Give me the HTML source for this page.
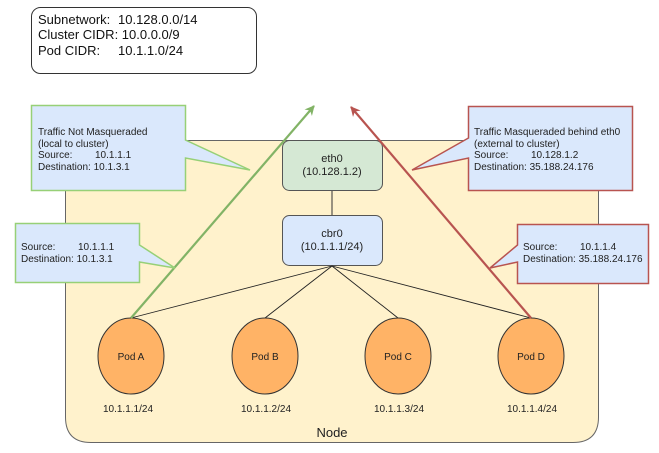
<!DOCTYPE html>
<html><head><meta charset="utf-8"><style>
html,body{margin:0;padding:0;background:#fff;}
svg{display:block;font-family:"Liberation Sans",Arial,sans-serif;}
</style></head><body>
<svg width="659" height="453" viewBox="0 0 659 453" xmlns="http://www.w3.org/2000/svg">
<defs>
<marker id="ag" viewBox="0 0 10 10" refX="9" refY="5" markerWidth="4.5" markerHeight="4.5" orient="auto"><path d="M0,0 L10,5 L0,10 L3,5 z" fill="#82b366"/></marker>
<marker id="ar" viewBox="0 0 10 10" refX="9" refY="5" markerWidth="4.5" markerHeight="4.5" orient="auto"><path d="M0,0 L10,5 L0,10 L3,5 z" fill="#b85450"/></marker>
</defs>
<!-- info box -->
<rect x="31.5" y="7.5" width="225" height="66" rx="9" fill="#fff" stroke="#333"/>
<g font-size="13" fill="#111">
<text x="38" y="24">Subnetwork:</text><text x="118" y="24">10.128.0.0/14</text>
<text x="38" y="39">Cluster CIDR: 10.0.0.0/9</text>
<text x="38" y="55">Pod CIDR:</text><text x="118" y="55">10.1.1.0/24</text>
</g>
<!-- node -->
<path d="M65.5,140.5 H598.5 V417 Q598.5,442.5 573,442.5 H91 Q65.5,442.5 65.5,417 Z" fill="#fff2cc" stroke="#666"/>
<text x="332" y="437" font-size="13" text-anchor="middle" fill="#222">Node</text>
<!-- eth0 / cbr0 -->
<line x1="332" y1="190" x2="332" y2="215" stroke="#333"/>
<rect x="282.5" y="140.5" width="100" height="50" rx="7" fill="#d5e8d4" stroke="#555"/>
<text x="332" y="162" font-size="11" text-anchor="middle" fill="#222">eth0</text>
<text x="332" y="175" font-size="11" text-anchor="middle" fill="#222">(10.128.1.2)</text>
<rect x="282.5" y="215.5" width="100" height="50" rx="7" fill="#dae8fc" stroke="#555"/>
<text x="332" y="237" font-size="11" text-anchor="middle" fill="#222">cbr0</text>
<text x="332" y="250" font-size="11" text-anchor="middle" fill="#222">(10.1.1.1/24)</text>
<g stroke="#222" stroke-width="0.9">
<line x1="332" y1="266" x2="131" y2="318"/>
<line x1="332" y1="266" x2="265" y2="318"/>
<line x1="332" y1="266" x2="398" y2="318"/>
<line x1="332" y1="266" x2="531" y2="318"/>
</g>
<!-- pods -->
<g fill="#ffb366" stroke="#333">
<ellipse cx="131" cy="356" rx="33" ry="38"/>
<ellipse cx="265" cy="356" rx="33" ry="38"/>
<ellipse cx="398" cy="356" rx="33" ry="38"/>
<ellipse cx="531" cy="356" rx="33" ry="38"/>
</g>
<g font-size="10" text-anchor="middle" fill="#222">
<text x="131" y="360">Pod A</text><text x="265" y="360">Pod B</text><text x="398" y="360">Pod C</text><text x="531" y="360">Pod D</text>
<text x="128" y="412">10.1.1.1/24</text><text x="266" y="412">10.1.1.2/24</text><text x="399" y="412">10.1.1.3/24</text><text x="532" y="412">10.1.1.4/24</text>
</g>
<!-- arrows -->
<line x1="131" y1="318" x2="314" y2="106" stroke="#82b366" stroke-width="2.2" marker-end="url(#ag)"/>
<line x1="531" y1="318" x2="351" y2="107" stroke="#b85450" stroke-width="2.2" marker-end="url(#ar)"/>
<!-- callouts -->
<path d="M31.5,105.5 H185.5 V140 L250,170 L185.5,158 V190.5 H31.5 Z" fill="#dae8fc" stroke="#97d077" stroke-width="1.5"/>
<g font-size="10" fill="#222">
<text x="38" y="135">Traffic Not Masqueraded</text>
<text x="38" y="147">(local to cluster)</text>
<text x="38" y="158">Source:</text><text x="95" y="158">10.1.1.1</text>
<text x="38" y="170">Destination:  10.1.3.1</text>
</g>
<path d="M15.5,223.5 H139.5 V245 L175,268 L139.5,262 V282.5 H15.5 Z" fill="#dae8fc" stroke="#97d077" stroke-width="1.5"/>
<g font-size="10" fill="#222">
<text x="21" y="250">Source:</text><text x="78" y="250">10.1.1.1</text>
<text x="21" y="262">Destination:  10.1.3.1</text>
</g>
<path d="M468.5,106.5 H632.5 V190.5 H468.5 V158 L412,170 L468.5,138 Z" fill="#dae8fc" stroke="#b85450" stroke-width="1.5"/>
<g font-size="10" fill="#222">
<text x="474" y="135">Traffic Masqueraded behind eth0</text>
<text x="474" y="147">(external to cluster)</text>
<text x="474" y="158">Source:</text><text x="531" y="158">10.128.1.2</text>
<text x="474" y="170">Destination: 35.188.24.176</text>
</g>
<path d="M517.5,224.5 H648.5 V283.5 H517.5 V262 L490,268 L517.5,245 Z" fill="#dae8fc" stroke="#b85450" stroke-width="1.5"/>
<g font-size="10" fill="#222">
<text x="523" y="250">Source:</text><text x="580" y="250">10.1.1.4</text>
<text x="523" y="262">Destination: 35.188.24.176</text>
</g>
</svg>
</body></html>
